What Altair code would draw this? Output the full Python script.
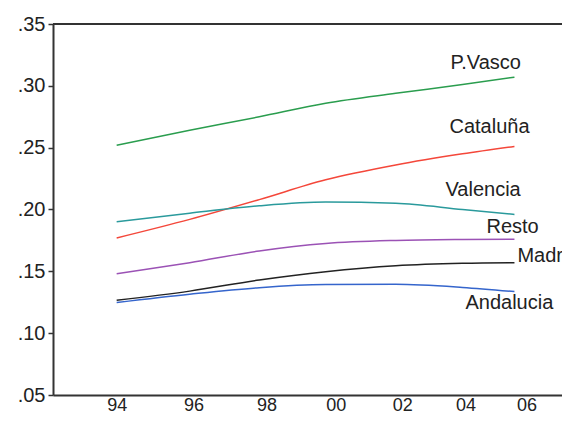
import altair as alt
import pandas as pd

# ---- data ----
# sample years at which the curves were read
years = [1994, 1995.9, 1997.8, 1999.7, 2001.8, 2003.9, 2005.6]
p_vasco = [0.252, 0.264, 0.275, 0.286, 0.294, 0.301, 0.307]
cataluna = [0.177, 0.192, 0.208, 0.224, 0.236, 0.245, 0.251]
valencia = [0.190, 0.197, 0.203, 0.206, 0.205, 0.200, 0.196]
resto = [0.148, 0.157, 0.1665, 0.1725, 0.175, 0.1758, 0.176]
madrid = [0.1266, 0.134, 0.143, 0.1497, 0.1545, 0.1565, 0.157]
andalucia = [0.1248, 0.1315, 0.1368, 0.1393, 0.1395, 0.137, 0.1336]

series_names = ["P.Vasco", "Cataluña", "Valencia", "Resto", "Madrid", "Andalucia"]
series_values = [p_vasco, cataluna, valencia, resto, madrid, andalucia]
x_ticks = [1994, 1996, 1998, 2000, 2002, 2004, 2006]
y_ticks = [0.05, 0.10, 0.15, 0.20, 0.25, 0.30, 0.35]

# ---- styles ----
colors = ["#2a9d4e", "#f4473a", "#2a9a9c", "#9b52b5", "#222222", "#3565cc"]
label_dx = [-64, -65, -69, -28, 3, -49]
label_dy = [-14, -19, -24, -12.5, -6.5, 11]
FONT = "Liberation Sans"
W, H = 509, 371
ORIGIN = 1957  # the reference's time axis is slightly compressed to the right

rows = []
for name, vals in zip(series_names, series_values):
    for yr, v in zip(years, vals):
        rows.append({"year": yr, "t": yr - ORIGIN, "value": v, "series": name})
df = pd.DataFrame(rows)

xscale = alt.Scale(type="log", domain=[1992.42 - ORIGIN, 2007.21 - ORIGIN], nice=False, zero=False)
yscale = alt.Scale(domain=[0.05, 0.35], nice=False, zero=False)

lines = alt.Chart(df).mark_line(strokeWidth=1.5, interpolate="monotone").encode(
    x=alt.X("t:Q", scale=xscale,
            axis=alt.Axis(values=[v - ORIGIN for v in x_ticks],
                          labelExpr=f"substring(toString(round(datum.value + {ORIGIN})), 2)",
                          ticks=False, grid=False, title=None, labelFontSize=18,
                          labelPadding=1, labelFont=FONT, labelColor="#222",
                          domainColor="#333", domainWidth=2, labelFlush=False)),
    y=alt.Y("value:Q", scale=yscale,
            axis=alt.Axis(values=y_ticks, labelExpr="replace(format(datum.value, '.2f'), '0.', '.')",
                          grid=False, title=None, labelFontSize=20, labelFont=FONT,
                          labelColor="#222", tickSize=5, tickWidth=1.5, tickColor="#333",
                          labelPadding=3, domainColor="#333", domainWidth=2, labelFlush=False)),
    color=alt.Color("series:N", scale=alt.Scale(domain=series_names, range=colors), legend=None),
    detail="series:N",
)

top_border = alt.Chart(pd.DataFrame({"k": [0]})).mark_rule(color="#333", strokeWidth=2).encode(
    x=alt.value(0), x2=alt.value(W + 5), y=alt.value(0)
)

layers = [lines, top_border]
last_year = years[-1]
for name, dx, dy in zip(series_names, label_dx, label_dy):
    t = alt.Chart(df).transform_filter(
        (alt.datum.series == name) & (alt.datum.year == last_year)
    ).mark_text(align="left", baseline="middle", dx=dx, dy=dy, font=FONT,
                fontSize=20, color="#222").encode(
        x=alt.X("t:Q", scale=xscale),
        y=alt.Y("value:Q", scale=yscale),
        text="series:N",
    )
    layers.append(t)

chart = alt.layer(*layers).properties(
    width=W, height=H,
    autosize=alt.AutoSizeParams(type="none"),
    padding={"left": 45, "top": 16, "right": 0, "bottom": 20},
).configure_view(stroke=None)

chart.save("out.html", embed_options={"renderer": "svg", "actions": False})
